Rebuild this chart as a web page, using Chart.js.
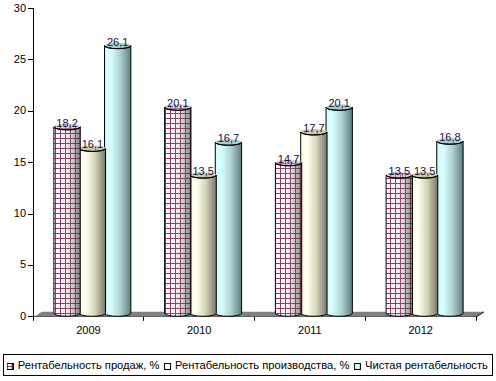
<!DOCTYPE html>
<html><head><meta charset="utf-8">
<style>html,body{margin:0;padding:0;background:#fff}canvas{display:block}</style>
<script src="https://cdn.jsdelivr.net/npm/chart.js@4/dist/chart.umd.js"></script>
</head><body><canvas id="c" width="496" height="381"></canvas>
<script>
const categories=['2009','2010','2011','2012'];
const salesMargin=[18.2,20.1,14.7,13.5];
const productionMargin=[16.1,13.5,17.7,13.5];
const netMargin=[26.1,16.7,20.1,16.8];
const seriesNames=['Рентабельность продаж, %','Рентабельность производства, %','Чистая рентабельность'];
const yTicks=[0,5,10,15,20,25,30];

const FONT='"Liberation Sans", Arial, sans-serif';
const ctx=document.getElementById('c').getContext('2d',{alpha:false});

function hatch(){
  const p=document.createElement('canvas');p.width=5;p.height=5;
  const g=p.getContext('2d');
  g.fillStyle='#ffffff';g.fillRect(0,0,5,5);
  g.fillStyle='#8c3060';g.fillRect(0,0,1,5);g.fillRect(0,3,5,1);
  return g.canvas;
}
const hatchPattern=ctx.createPattern(hatch(),'repeat');
function legendSwatch(fill){
  const p=document.createElement('canvas');p.width=7;p.height=7;
  const g=p.getContext('2d');
  g.fillStyle=fill==='hatch'?g.createPattern(hatch(),'repeat'):fill;g.fillRect(0,0,7,7);
  g.strokeStyle='#000';g.lineWidth=1;g.strokeRect(.5,.5,6,6);
  return p;
}
const styles=[
 {stops:[[0,'rgba(255,255,255,0)'],[0.3,'rgba(200,200,200,0.08)'],[0.65,'rgba(120,120,120,0.3)'],[1,'rgba(40,40,40,0.6)']],cap:'#b8a6b4',base:hatchPattern,leg:'hatch'},
 {stops:[[0,'#fbfbe6'],[0.25,'#fffff0'],[0.6,'#d4d4b8'],[1,'#78786a']],cap:'#c8c8ac',leg:'#ffffe6'},
 {stops:[[0,'#d8fbfb'],[0.25,'#d4ffff'],[0.6,'#aed0d0'],[1,'#5e7e7e']],cap:'#a8cccc',leg:'#ccffff'}
];
const DEPTH_X=4,LIFT=3,RY=3;

const cylinders={
 id:'cylinders',
 beforeDraw(chart){
  const c=chart.ctx;c.save();c.fillStyle='#fff';c.fillRect(0,0,chart.width,chart.height);c.restore();
 },
 beforeDatasetsDraw(chart){
  const {ctx:c,scales:{x,y}}=chart;
  const y0=y.getPixelForValue(0),L=x.left,R=x.right;
  c.save();
  c.fillStyle='#808080';c.strokeStyle='#000';c.lineWidth=1;
  c.beginPath();c.moveTo(L+1,y0);c.lineTo(L+9,y0-5);c.lineTo(R+8,y0-5);c.lineTo(R,y0);c.closePath();c.fill();
  c.beginPath();c.moveTo(R+.5,y0);c.lineTo(R+8,y0-5);c.stroke();
  c.restore();
 },
 afterDatasetDraw(chart,args){
  const {ctx:c}=chart,i=args.index,st=styles[i];
  chart.getDatasetMeta(i).data.forEach((bar,k)=>{
   const p=bar.getProps(['x','y','base','width'],true);
   const w=p.width+1,cx=p.x+DEPTH_X,xl=cx-w/2,xr=cx+w/2,yt=p.y-LIFT,yb=p.base-LIFT;
   const shape=()=>{c.beginPath();c.moveTo(xl,yt);c.lineTo(xl,yb);c.ellipse(cx,yb,w/2,RY,0,Math.PI,0,true);c.lineTo(xr,yt);c.ellipse(cx,yt,w/2,RY,0,0,Math.PI,false);c.closePath();};
   const g=c.createLinearGradient(xl,0,xr,0);
   st.stops.forEach(s=>g.addColorStop(s[0],s[1]));
   c.save();
   shape();
   if(st.base){c.fillStyle=st.base;c.fill();}
   c.fillStyle=g;c.fill();
   c.beginPath();c.ellipse(cx,yt,w/2,RY,0,0,Math.PI*2);c.fillStyle=st.cap;c.fill();
   if(st.base){c.fillStyle=st.base;c.globalAlpha=.45;c.fill();c.globalAlpha=1;}
   c.strokeStyle='#000';c.lineWidth=1;
   shape();c.stroke();
   c.beginPath();c.ellipse(cx,yt,w/2,RY,0,0,Math.PI);c.stroke();
   c.restore();
  });
 },
 afterDatasetsDraw(chart){
  const {ctx:c}=chart;
  c.save();c.font='11px '+FONT;c.textAlign='center';c.textBaseline='middle';c.fillStyle='#1a1040';
  chart.data.datasets.forEach((d,i)=>{
   chart.getDatasetMeta(i).data.forEach((bar,k)=>{
    c.fillText(d.data[k].toFixed(1).replace('.',','),bar.x+DEPTH_X,bar.y-LIFT-3);
   });
  });
  c.restore();
  c.save();c.strokeStyle='#000';c.lineWidth=1;c.strokeRect(3.5,354.5,489,21);c.restore();
 }
};

new Chart(ctx,{
 type:'bar',
 data:{labels:categories,datasets:[salesMargin,productionMargin,netMargin].map((v,i)=>({
   label:seriesNames[i],data:v,backgroundColor:'rgba(0,0,0,0)',borderWidth:0,
   categoryPercentage:0.686,barPercentage:1
 }))},
 plugins:[cylinders],
 options:{
  responsive:false,animation:false,
  layout:{padding:{top:8,left:0,right:0,bottom:-1}},
  plugins:{
   tooltip:{enabled:false},
   legend:{position:'bottom',
    labels:{usePointStyle:true,pointStyleWidth:4,boxHeight:7,padding:6,color:'#000',font:{family:FONT,size:11.2},
     generateLabels:()=>seriesNames.map((t,i)=>({text:t,pointStyle:legendSwatch(styles[i].leg),datasetIndex:i}))}}
  },
  scales:{
   x:{grid:{display:true,drawOnChartArea:false,drawTicks:true,tickLength:4,color:'#000',offset:true},
      border:{color:'#000',width:1},
      ticks:{color:'#000',font:{family:FONT,size:11},padding:4,maxRotation:0},
      afterFit(s){s.height=38;}},
   y:{min:0,max:30,afterBuildTicks(s){s.ticks=yTicks.map(v=>({value:v}));},
      grid:{display:true,drawOnChartArea:false,drawTicks:true,tickLength:5,color:'#000'},
      border:{color:'#000',width:1},
      ticks:{color:'#000',font:{family:FONT,size:11},padding:2},
      afterFit(s){s.width=33;}},
   spacer:{position:'right',min:0,max:1,grid:{display:false,drawTicks:false},border:{display:false},ticks:{display:false},afterFit(s){s.width=20;}}
  }
 }
});
</script></body></html>
